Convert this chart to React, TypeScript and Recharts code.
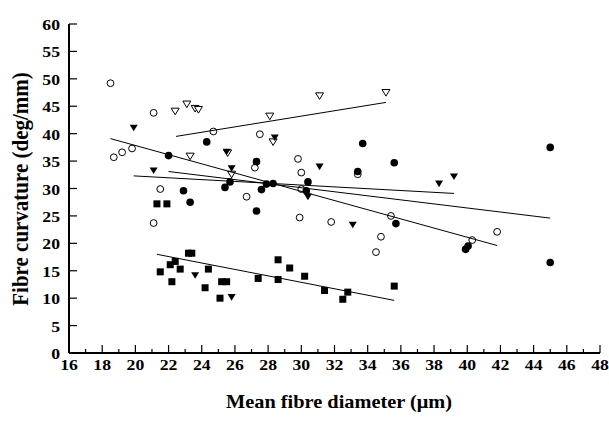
import { Label, Scatter, ScatterChart, XAxis, YAxis } from "recharts";

// fibre diameter (µm) vs curvature (deg/mm), five groups + fitted lines
const openCircles: number[][] = [
  [18.5, 49.2], [18.7, 35.7], [19.2, 36.6], [19.8, 37.3], [21.1, 43.8], [21.5, 29.9],
  [21.1, 23.7], [24.7, 40.4], [27.5, 39.9], [26.7, 28.5], [27.2, 33.8], [29.8, 35.4],
  [30.0, 32.9], [30.0, 29.9], [29.9, 24.7], [31.8, 23.9], [33.4, 32.6], [35.4, 25.0],
  [34.8, 21.2], [34.5, 18.4], [40.3, 20.6], [41.8, 22.1],
];

const filledCircles: number[][] = [
  [22.0, 36.0], [22.9, 29.6], [23.3, 27.5], [24.3, 38.5], [25.4, 30.2], [25.7, 31.2],
  [27.3, 34.9], [27.3, 25.9], [27.6, 29.8], [27.9, 30.8], [28.3, 30.9], [30.3, 29.6],
  [30.4, 31.2], [33.4, 33.1], [33.7, 38.2], [35.6, 34.7], [35.7, 23.6], [39.9, 18.9],
  [40.05, 19.5], [45.0, 37.5], [45.0, 16.5],
];

const openTriangles: number[][] = [
  [22.4, 44.1], [23.1, 45.4], [23.6, 44.6], [23.8, 44.4], [23.3, 35.9], [25.56, 36.5],
  [25.8, 32.6], [28.1, 43.2], [28.3, 38.5], [31.1, 46.9], [35.1, 47.5],
];

const filledTriangles: number[][] = [
  [19.9, 41.1], [21.1, 33.3], [23.6, 14.2], [25.5, 36.7], [25.8, 33.7], [25.8, 10.2],
  [28.4, 39.3], [30.4, 28.5], [31.1, 34.0], [33.1, 23.4], [38.3, 30.9], [39.2, 32.2],
];

const squares: number[][] = [
  [21.3, 27.2], [21.9, 27.2], [21.5, 14.8], [22.1, 16.1], [22.2, 13.0], [22.4, 16.7],
  [22.7, 15.3], [23.2, 18.2], [23.4, 18.2], [24.2, 11.9], [24.4, 15.3], [25.1, 10.0],
  [25.2, 13.0], [25.5, 13.0], [27.4, 13.6], [28.6, 17.0], [28.6, 13.4], [29.3, 15.5],
  [30.2, 14.0], [31.4, 11.4], [32.5, 9.8], [32.8, 11.1], [35.6, 12.2],
];

// regression line end points
const openTriLine: number[][] = [[22.45, 39.5], [35.1, 45.7]];
const openCircLine: number[][] = [[18.5, 39.1], [41.8, 19.6]];
const filledCircLine: number[][] = [[22.0, 33.1], [45.0, 24.6]];
const filledTriLine: number[][] = [[19.9, 32.3], [39.2, 29.1]];
const squareLine: number[][] = [[21.3, 18.0], [35.6, 9.6]];

const xTicks = Array.from({ length: 33 }, (_, i) => 16 + i);
const yTicks = [0, 5, 10, 15, 20, 25, 30, 35, 40, 45, 50, 55, 60];

const FONT = '"Liberation Serif", "Times New Roman", serif';

const pts = (a: number[][]) => a.map(([x, y]) => ({ x, y }));

const OpenCircle = (p: any) => (
  <circle cx={p.cx} cy={p.cy} r={3.4} fill="#fff" stroke="#000" strokeWidth={1} />
);
const FilledCircle = (p: any) => <circle cx={p.cx} cy={p.cy} r={3.8} fill="#000" />;
const triPoints = (cx: number, cy: number) =>
  `${cx - 4},${cy - 3} ${cx + 4},${cy - 3} ${cx},${cy + 3.6}`;
const OpenTriangle = (p: any) => (
  <polygon points={triPoints(p.cx, p.cy)} fill="#fff" stroke="#000" strokeWidth={1} />
);
const FilledTriangle = (p: any) => <polygon points={triPoints(p.cx, p.cy)} fill="#000" />;
const Square = (p: any) => <rect x={p.cx - 3.5} y={p.cy - 3.5} width={7} height={7} fill="#000" />;
const NoDot = () => <g />;

function XTick(props: any) {
  const { x, y, payload } = props;
  const major = payload.value % 2 === 0;
  return (
    <g>
      <line x1={x} x2={x} y1={y} y2={y - (major ? 8 : 4)} stroke="#000" strokeWidth={1.2} />
      {major ? (
        <text
          transform={`translate(${x},${y + 17}) scale(1.14,1)`}
          textAnchor="middle"
          fontFamily={FONT}
          fontWeight="bold"
          fontSize={15.5}
          fill="#000"
        >
          {payload.value}
        </text>
      ) : null}
    </g>
  );
}

function YTick(props: any) {
  const { x, y, payload } = props;
  return (
    <g>
      <line x1={x} x2={x + 8} y1={y} y2={y} stroke="#000" strokeWidth={1.2} />
      <text
        transform={`translate(${x - 9},${y + 6}) scale(1.14,1)`}
        textAnchor="end"
        fontFamily={FONT}
        fontWeight="bold"
        fontSize={15.5}
        fill="#000"
      >
        {payload.value}
      </text>
    </g>
  );
}

export default function App() {
  const lines = [openTriLine, openCircLine, filledCircLine, filledTriLine, squareLine];
  return (
    <div style={{ position: "absolute", left: 0, top: 0, width: 609, height: 430, background: "#fff" }}>
      <ScatterChart width={609} height={430} margin={{ top: 24, right: 9, left: 0, bottom: 0 }}>
        <XAxis
          type="number"
          dataKey="x"
          domain={[16, 48]}
          ticks={xTicks}
          interval={0}
          height={77}
          tickSize={0}
          tickMargin={0}
          tickLine={false}
          axisLine={{ stroke: "#000", strokeWidth: 2 }}
          tick={<XTick />}
          allowDataOverflow
        >
          <Label
            content={() => (
              <text
                transform="translate(339,408) scale(1.1,1)"
                textAnchor="middle"
                fontFamily={FONT}
                fontWeight="bold"
                fontSize={18.5}
                fill="#000"
              >
                Mean fibre diameter (μm)
              </text>
            )}
          />
        </XAxis>
        <YAxis
          type="number"
          dataKey="y"
          domain={[0, 60]}
          ticks={yTicks}
          interval={0}
          width={69}
          tickSize={0}
          tickMargin={0}
          tickLine={false}
          axisLine={{ stroke: "#000", strokeWidth: 2 }}
          tick={<YTick />}
          allowDataOverflow
        >
          <Label
            content={() => (
              <text
                transform="translate(28,189) scale(1.14,1) rotate(-90)"
                textAnchor="middle"
                fontFamily={FONT}
                fontWeight="bold"
                fontSize={21}
                fill="#000"
              >
                Fibre curvature (deg/mm)
              </text>
            )}
          />
        </YAxis>
        <Scatter data={pts(openCircles)} shape={OpenCircle} isAnimationActive={false} />
        <Scatter data={pts(openTriangles)} shape={OpenTriangle} isAnimationActive={false} />
        <Scatter data={pts(filledCircles)} shape={FilledCircle} isAnimationActive={false} />
        <Scatter data={pts(filledTriangles)} shape={FilledTriangle} isAnimationActive={false} />
        <Scatter data={pts(squares)} shape={Square} isAnimationActive={false} />
        {lines.map((l, i) => (
          <Scatter
            key={i}
            data={pts(l)}
            line={{ stroke: "#000", strokeWidth: 1 }}
            shape={NoDot}
            isAnimationActive={false}
          />
        ))}
      </ScatterChart>
    </div>
  );
}
